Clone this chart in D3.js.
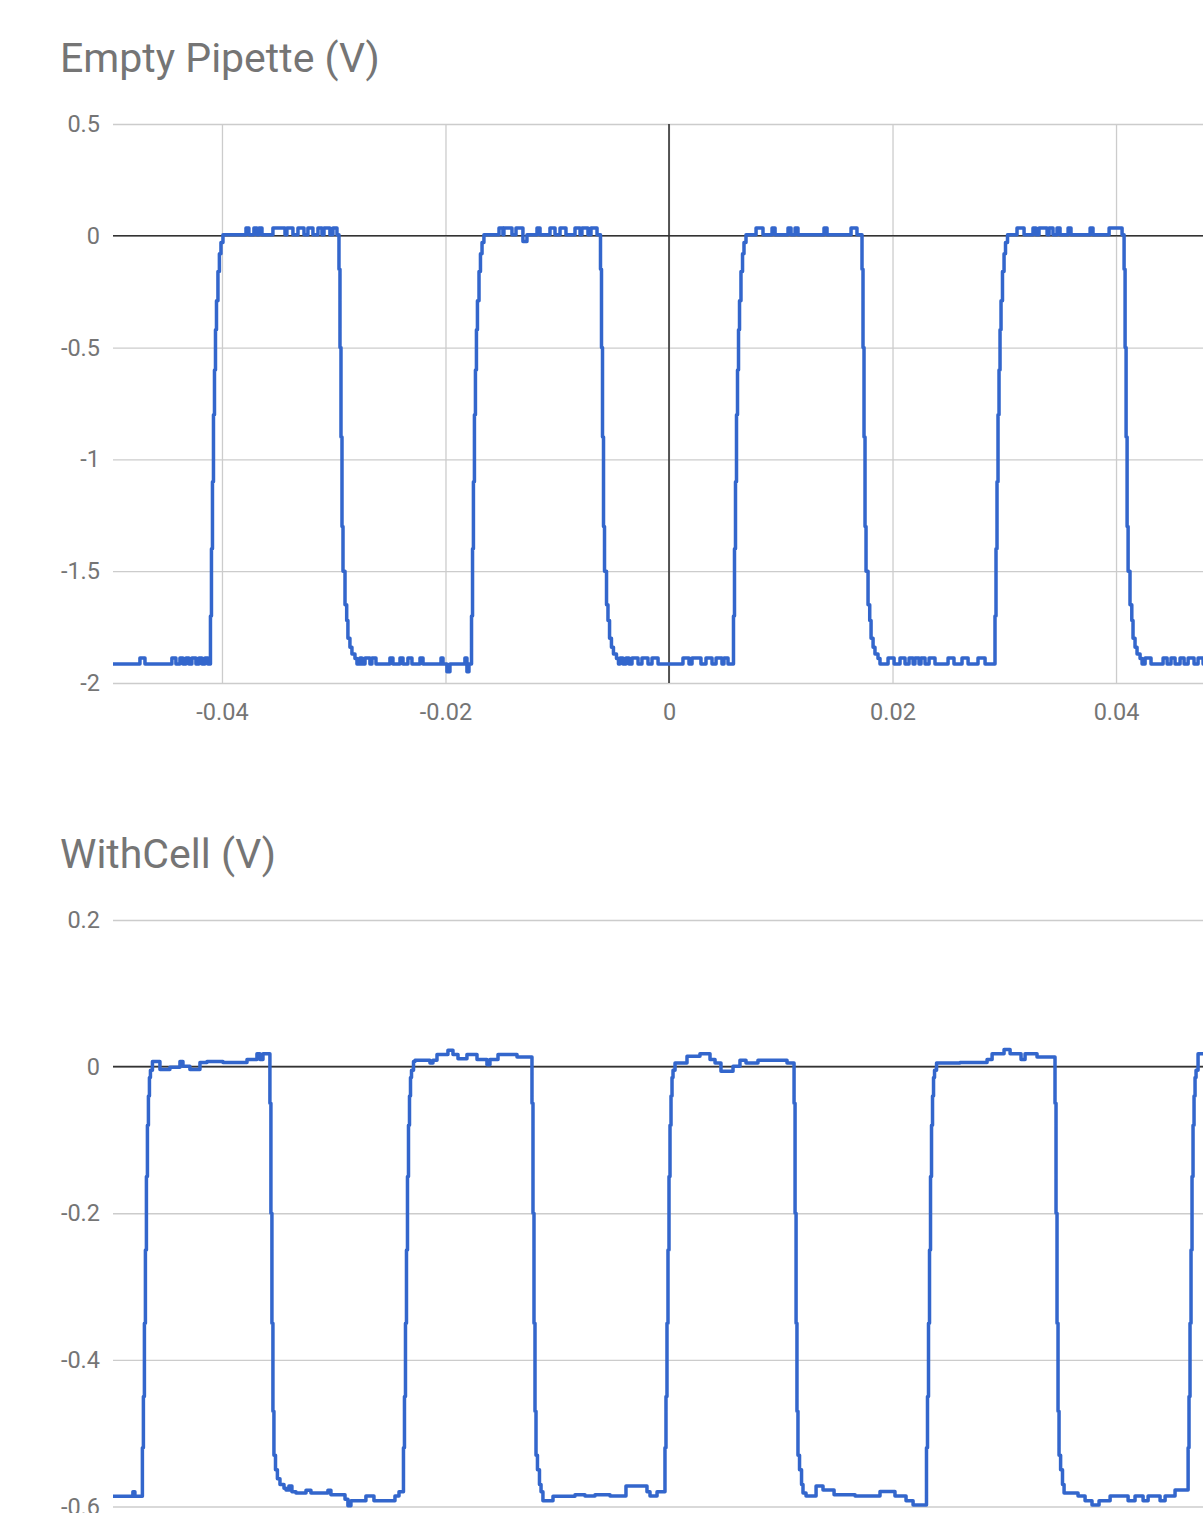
<!DOCTYPE html>
<html><head><meta charset="utf-8">
<script src="https://cdn.jsdelivr.net/npm/d3@7"></script>
<style>body{margin:0;background:#fff;overflow:hidden}svg{display:block}</style>
</head><body><svg id="c" width="1203" height="1513"></svg>
<script>
// ---- data ----
const xTicks = [-0.04, -0.02, 0, 0.02, 0.04];          // seconds
const topYTicks = [0.5, 0, -0.5, -1, -1.5, -2];
const botYTicks = [0.2, 0, -0.2, -0.4, -0.6];
const topTitle = "Empty Pipette (V)";
const botTitle = "WithCell (V)";
// [time in ms, volts]; each value holds until the next sample
const emptyPipette = [
[-49.76,-1.915],[-47.34,-1.888],[-46.89,-1.915],[-44.48,-1.888],[-44.12,-1.915],[-43.76,-1.888],[-43.49,-1.915],[-43.22,-1.888],[-42.96,-1.915],[-42.69,-1.888],[-42.33,-1.915],[-42.06,-1.888],[-41.79,-1.915],[-41.52,-1.888],[-41.26,-1.915],
[-41.03,-1.7],[-40.94,-1.4],[-40.85,-1.1],[-40.76,-0.8],[-40.67,-0.6],[-40.58,-0.42],[-40.49,-0.29],[-40.36,-0.16],[-40.23,-0.08],[-40.09,-0.03],[-39.91,0.005],
[-37.85,0.035],[-37.59,0.005],[-37.14,0.035],[-36.87,0.005],[-36.69,0.035],[-36.42,0.005],[-35.44,0.035],[-34.36,0.005],[-34.19,0.035],[-33.65,0.005],[-33.20,0.035],[-32.66,0.005],[-32.31,0.035],[-31.86,0.005],[-31.41,0.035],[-31.05,0.005],[-30.87,0.035],[-30.34,0.005],[-30.07,0.035],[-29.71,0.005],
[-29.53,-0.15],[-29.44,-0.5],[-29.35,-0.9],[-29.26,-1.3],[-29.17,-1.5],[-28.99,-1.65],[-28.84,-1.72],[-28.73,-1.80],[-28.55,-1.84],[-28.37,-1.87],[-28.10,-1.89],[-27.92,-1.915],
[-27.65,-1.888],[-27.47,-1.915],[-27.20,-1.888],[-26.76,-1.915],[-26.58,-1.888],[-26.22,-1.915],[-24.97,-1.888],[-24.70,-1.915],[-24.07,-1.888],[-23.80,-1.915],[-23.36,-1.888],[-23.00,-1.915],[-22.28,-1.888],[-22.01,-1.915],[-20.40,-1.888],[-20.22,-1.915],[-19.87,-1.95],[-19.60,-1.915],[-18.26,-1.888],[-18.08,-1.95],[-17.90,-1.915],
[-17.67,-1.7],[-17.58,-1.4],[-17.50,-1.1],[-17.41,-0.8],[-17.32,-0.6],[-17.23,-0.42],[-17.14,-0.29],[-17.00,-0.16],[-16.87,-0.08],[-16.73,-0.03],[-16.56,0.005],
[-15.21,0.035],[-14.86,0.005],[-14.77,0.035],[-14.05,0.005],[-13.69,0.035],[-13.07,-0.025],[-12.71,0.005],[-11.81,0.035],[-11.54,0.005],[-10.65,0.035],[-10.20,0.005],[-9.75,0.035],[-9.22,0.005],[-8.41,0.035],[-7.96,0.005],[-7.79,0.035],[-7.25,0.005],[-6.98,0.035],[-6.44,0.005],
[-6.13,-0.15],[-6.04,-0.5],[-5.95,-0.9],[-5.86,-1.3],[-5.77,-1.5],[-5.59,-1.65],[-5.46,-1.72],[-5.32,-1.80],[-5.15,-1.84],[-4.97,-1.87],[-4.70,-1.89],[-4.52,-1.915],
[-4.39,-1.888],[-4.12,-1.915],[-3.85,-1.888],[-3.58,-1.915],[-3.31,-1.888],[-2.77,-1.915],[-2.42,-1.888],[-1.88,-1.915],[-1.52,-1.888],[-0.98,-1.915],[1.25,-1.888],[1.79,-1.915],[2.06,-1.888],[2.86,-1.915],[3.31,-1.888],[3.85,-1.915],[4.21,-1.888],[4.74,-1.915],[4.92,-1.888],[5.28,-1.915],
[5.77,-1.7],[5.86,-1.4],[5.95,-1.1],[6.04,-0.8],[6.13,-0.6],[6.22,-0.42],[6.31,-0.29],[6.44,-0.16],[6.58,-0.08],[6.71,-0.03],[6.89,0.005],
[7.79,0.035],[8.41,0.005],[9.22,0.035],[9.49,0.005],[10.65,0.035],[10.92,0.005],[11.28,0.035],[11.54,0.005],[13.87,0.035],[14.14,0.005],[16.29,0.035],[16.82,0.005],
[17.27,-0.15],[17.36,-0.5],[17.45,-0.9],[17.54,-1.3],[17.63,-1.5],[17.81,-1.65],[17.96,-1.72],[18.08,-1.80],[18.26,-1.84],[18.43,-1.87],[18.70,-1.89],[18.88,-1.915],
[19.60,-1.888],[20.14,-1.915],[20.67,-1.888],[21.12,-1.915],[21.48,-1.888],[21.84,-1.915],[22.01,-1.888],[22.37,-1.915],[22.55,-1.888],[22.91,-1.915],[23.27,-1.888],[23.80,-1.915],[24.97,-1.888],[25.50,-1.915],[26.22,-1.888],[26.76,-1.915],[27.65,-1.888],[28.28,-1.915],
[29.17,-1.7],[29.26,-1.4],[29.35,-1.1],[29.44,-0.8],[29.53,-0.6],[29.62,-0.42],[29.71,-0.29],[29.84,-0.16],[29.98,-0.08],[30.11,-0.03],[30.29,0.005],
[31.14,0.035],[31.77,0.005],[32.57,0.035],[32.84,0.005],[33.11,0.035],[33.83,0.005],[34.01,0.035],[34.36,0.005],[34.72,0.035],[34.99,0.005],[35.71,0.035],[35.97,0.005],[37.68,0.035],[37.94,0.005],[39.38,0.035],[40.54,0.005],
[40.72,-0.15],[40.81,-0.5],[40.90,-0.9],[40.99,-1.3],[41.08,-1.5],[41.25,-1.65],[41.41,-1.72],[41.52,-1.80],[41.70,-1.84],[41.88,-1.87],[42.15,-1.89],[42.33,-1.915],
[42.60,-1.888],[43.13,-1.915],[44.21,-1.888],[44.57,-1.915],[44.92,-1.888],[45.28,-1.915],[45.73,-1.888],[46.09,-1.915],[46.45,-1.888],[46.98,-1.915],[47.34,-1.888],[47.79,-1.915],[49.76,-1.915]
];
const withCell = [
[-49.76,-0.586],[-47.97,-0.58],[-47.79,-0.586],
[-47.12,-0.52],[-47.03,-0.45],[-46.94,-0.35],[-46.85,-0.25],[-46.76,-0.15],[-46.67,-0.08],[-46.58,-0.04],[-46.49,-0.015],[-46.40,-0.005],[-46.22,0.007],
[-45.55,-0.004],[-44.66,-0.001],[-43.76,0.007],[-43.49,0.0004],[-42.87,-0.004],[-41.97,0.0055],[-41.34,0.007],[-39.91,0.0055],[-37.76,0.0096],[-36.87,0.0177],[-36.60,0.0096],[-36.33,0.0177],
[-35.71,-0.05],[-35.62,-0.2],[-35.53,-0.35],[-35.44,-0.47],[-35.35,-0.53],[-35.21,-0.55],[-35.04,-0.562],[-34.81,-0.57],[-34.45,-0.575],
[-34.27,-0.5775],[-34.01,-0.572],[-33.74,-0.58],[-33.38,-0.5816],[-32.48,-0.578],[-32.04,-0.5816],[-30.52,-0.578],[-30.25,-0.584],[-28.99,-0.59],[-28.73,-0.599],[-28.46,-0.592],[-27.12,-0.5857],[-26.40,-0.592],[-24.52,-0.5857],[-24.16,-0.58],
[-23.76,-0.52],[-23.67,-0.45],[-23.58,-0.35],[-23.49,-0.25],[-23.40,-0.15],[-23.31,-0.08],[-23.22,-0.04],[-23.13,-0.015],[-23.04,-0.005],[-22.86,0.007],
[-22.73,0.0086],[-21.39,0.005],[-21.12,0.0086],[-20.76,0.0164],[-19.78,0.0223],[-19.33,0.0164],[-18.88,0.0109],[-18.08,0.0164],[-17.18,0.0096],[-16.29,0.0027],[-16.02,0.0096],[-15.30,0.0164],[-13.60,0.0132],
[-12.26,-0.05],[-12.17,-0.2],[-12.08,-0.35],[-11.99,-0.47],[-11.90,-0.53],[-11.77,-0.55],[-11.59,-0.57],[-11.45,-0.58],[-11.28,-0.592],
[-10.38,-0.586],[-8.41,-0.584],[-7.52,-0.5857],[-6.62,-0.584],[-5.28,-0.5857],[-3.85,-0.572],[-1.97,-0.58],[-1.70,-0.5857],[-1.07,-0.58],
[-0.36,-0.52],[-0.27,-0.45],[-0.18,-0.35],[-0.09,-0.25],[0,-0.15],[0.09,-0.08],[0.18,-0.04],[0.27,-0.015],[0.36,-0.005],[0.54,0.005],
[1.61,0.014],[2.77,0.0177],[3.67,0.0096],[4.12,0.005],[4.65,-0.0064],[5.73,0.0004],[6.35,0.0086],[6.89,0.005],[7.96,0.0086],[10.56,0.005],
[11.19,-0.05],[11.28,-0.2],[11.37,-0.35],[11.45,-0.47],[11.54,-0.53],[11.68,-0.55],[11.86,-0.57],[11.99,-0.5816],[12.26,-0.5857],
[13.16,-0.572],[13.78,-0.5775],[14.77,-0.584],[16.65,-0.5857],[18.88,-0.5797],[20.22,-0.5857],[21.21,-0.592],[21.84,-0.598],
[23.04,-0.52],[23.13,-0.45],[23.22,-0.35],[23.31,-0.25],[23.40,-0.15],[23.49,-0.08],[23.58,-0.04],[23.67,-0.015],[23.76,-0.005],[23.94,0.005],
[26.04,0.0055],[28.46,0.0096],[28.91,0.0177],[29.98,0.0232],[30.52,0.0177],[31.50,0.0096],[31.86,0.0177],[32.93,0.0132],
[34.54,-0.05],[34.63,-0.2],[34.72,-0.35],[34.81,-0.47],[34.90,-0.53],[35.04,-0.55],[35.21,-0.57],[35.35,-0.5816],
[35.88,-0.5816],[36.60,-0.5857],[37.23,-0.592],[37.85,-0.598],[38.48,-0.592],[39.47,-0.5857],[41.08,-0.592],[41.70,-0.5857],[42.42,-0.592],[42.87,-0.5857],[43.94,-0.592],[44.39,-0.5857],[45.28,-0.5775],
[46.45,-0.52],[46.53,-0.45],[46.62,-0.35],[46.71,-0.25],[46.80,-0.15],[46.89,-0.08],[46.98,-0.04],[47.07,-0.015],[47.16,-0.005],[47.34,0.0177],[49.76,0.0177]
];

// ---- drawing ----
const svg = d3.select("#c");
svg.append("rect").attr("width",1203).attr("height",1513).attr("fill","#fff");
const FONT = "Roboto, 'Noto Sans', sans-serif";
const LEFT = 113, RIGHT = 1225;
const x = d3.scaleLinear().domain([-0.04975, 0.04975]).range([LEFT, RIGHT]);

function panel(cfg, idx) {
  const y = d3.scaleLinear().domain([d3.min(cfg.yTicks), d3.max(cfg.yTicks)]).range([cfg.bottom, cfg.top]);
  svg.append("text").attr("x", 60).attr("y", cfg.titleY).text(cfg.title)
     .attr("font-family", FONT).attr("font-size", 41).attr("fill", "#757575");

  const ya = svg.append("g").attr("transform", `translate(${LEFT},0)`)
    .call(d3.axisLeft(y).tickValues(cfg.yTicks).tickSize(-(RIGHT - LEFT)).tickPadding(13).tickFormat(d => String(d)));
  ya.select(".domain").remove();
  ya.selectAll(".tick line").attr("stroke", "#cccccc").attr("stroke-width", 1.3);
  ya.selectAll(".tick text").attr("font-family", FONT).attr("font-size", 23.5).attr("fill", "#757575");

  if (cfg.xGrid) {
    const xa = svg.append("g").attr("transform", `translate(0,${cfg.bottom})`)
      .call(d3.axisBottom(x).tickValues(xTicks).tickSize(-(cfg.bottom - cfg.top)).tickPadding(20).tickFormat(d => String(d)));
    xa.select(".domain").remove();
    xa.selectAll(".tick line").attr("stroke", "#cccccc").attr("stroke-width", 1.3);
    xa.selectAll(".tick text").attr("font-family", FONT).attr("font-size", 23.5).attr("fill", "#757575");
    svg.append("line").attr("x1", x(0)).attr("x2", x(0)).attr("y1", cfg.top).attr("y2", cfg.bottom)
       .attr("stroke", "#333").attr("stroke-width", 1.6);
  }
  svg.append("line").attr("x1", LEFT).attr("x2", RIGHT).attr("y1", y(0)).attr("y2", y(0))
     .attr("stroke", "#333").attr("stroke-width", 1.6);

  const cid = "clip" + idx;
  svg.append("clipPath").attr("id", cid).append("rect")
     .attr("x", LEFT).attr("y", cfg.top - 20).attr("width", RIGHT - LEFT).attr("height", cfg.bottom - cfg.top + 40);
  const line = d3.line().x(d => x(d[0] / 1000)).y(d => y(d[1])).curve(d3.curveStepAfter);
  svg.append("path").datum(cfg.data).attr("clip-path", `url(#${cid})`)
     .attr("d", line).attr("fill", "none").attr("stroke", "#3366cc")
     .attr("stroke-width", 3.5).attr("stroke-linejoin", "round");
}

panel({title: topTitle, titleY: 72, top: 124, bottom: 683, yTicks: topYTicks, data: emptyPipette, xGrid: true}, 0);
panel({title: botTitle, titleY: 868, top: 920, bottom: 1506.5, yTicks: botYTicks, data: withCell, xGrid: false}, 1);
</script>
</body></html>
